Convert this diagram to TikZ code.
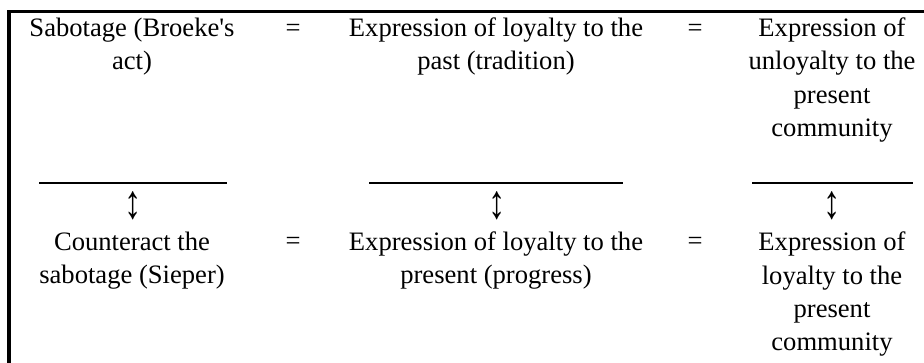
\documentclass[tikz,border=0pt]{standalone}
\usepackage{graphicx}
\usepackage{fontspec}
\setmainfont{Liberation Serif}[Ligatures=TeXOff]

\begin{document}
\begin{tikzpicture}[
  x=0.451pt, y=-0.451pt,
  every node/.style={inner sep=0pt},
  cell/.style={align=center, anchor=base, font=\fontsize{12}{15.1}\selectfont},
  eqsign/.style={anchor=base, font=\fontsize{12}{15.1}\selectfont},
  updown/.style={anchor=center, font=\fontsize{12}{15.1}\selectfont},
  rule/.style={line width=0.6pt},
  frame/.style={line width=1.4pt}
]
\useasboundingbox (0,0) rectangle (924,363);

% --- Frame (top and left edge) ---
\draw[frame] (924,11.5) -- (9,11.5) -- (9,363);

% --- Upper row (anchored at the last line's baseline) ---
\node[cell] (sabotage) at (132,70) {Sabotage (Broeke's\\act)};
\node[eqsign] (eqa) at (293,36.5) {=};
\node[cell] (pastloyal) at (496,70) {Expression of loyalty to the\\past (tradition)};
\node[eqsign] (eqb) at (695,36.5) {=};
\node[cell] (unloyal) at (832,136.7) {Expression of\\unloyalty to the\\present\\community};

% --- Divider rules ---
\draw[rule] (39,183) -- (227,183);
\draw[rule] (369,183) -- (623,183);
\draw[rule] (752,183) -- (913,183);

% --- Up-down arrows ---
\node[updown] (arra) at (133,206) {\scalebox{1.3}[1.8]{↕}};
\node[updown] (arrb) at (497,206) {\scalebox{1.3}[1.8]{↕}};
\node[updown] (arrc) at (832,206) {\scalebox{1.3}[1.8]{↕}};

% --- Lower row ---
\node[cell] (counter) at (132,284) {Counteract the\\sabotage (Sieper)};
\node[eqsign] (eqc) at (293,250) {=};
\node[cell] (presloyal) at (496,284) {Expression of loyalty to the\\present (progress)};
\node[eqsign] (eqd) at (695,250) {=};
\node[cell] (loyalcomm) at (832,351) {Expression of\\loyalty to the\\present\\community};

\end{tikzpicture}
\end{document}
